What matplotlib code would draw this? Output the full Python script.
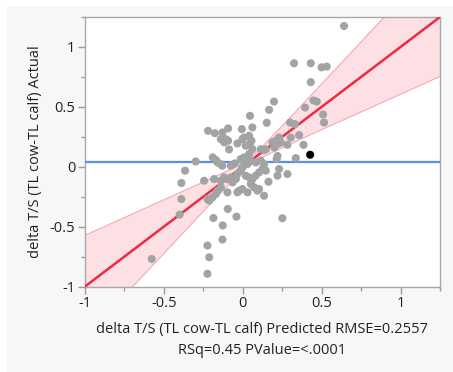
import numpy as np
import matplotlib
matplotlib.use("Agg")
import matplotlib.pyplot as plt
from matplotlib.patches import Rectangle
from matplotlib.ticker import MultipleLocator

plt.rcParams['font.family'] = ['Open Sans', 'DejaVu Sans']

# Gray points (predicted, actual)
pred = [0.642, 0.325, 0.431, 0.499, 0.532, 0.431, 0.198, 0.167, 0.046, 0.395,
        0.448, 0.469, 0.509, 0.515, 0.152, 0.061, 0.300, 0.330, -0.220, -0.177,
        -0.129, -0.093, -0.006, 0.040, -0.139, -0.108, -0.118, -0.093, -0.034, 0.055,
        0.045, 0.019, 0.008, -0.002, 0.304, 0.357, 0.385, 0.230, 0.209, 0.188,
        0.220, 0.241, 0.283, -0.087, 0.114, 0.146, 0.061, 0.135, 0.200, 0.336,
        0.220, 0.215, -0.298, -0.190, -0.170, -0.160, -0.140, -0.130, -0.065, -0.050,
        -0.076, -0.013, 0.008, 0.040, 0.030, 0.019, 0.051, 0.082, 0.114, 0.135,
        0.125, 0.103, 0.082, 0.061, 0.040, 0.019, 0.051, 0.072, 0.103, 0.030,
        0.093, 0.135, 0.163, 0.220, 0.230, 0.283, 0.146, -0.366, -0.389, -0.245,
        -0.182, -0.139, -0.118, -0.097, -0.076, -0.065, -0.044, -0.034, -0.013, -0.002,
        -0.139, -0.160, -0.171, -0.192, -0.224, -0.213, -0.097, -0.034, -0.002, -0.023,
        -0.389, -0.400, -0.095, -0.040, -0.186, 0.251, -0.127, -0.129, -0.224, -0.213,
        -0.224, -0.577]
actual = [1.175, 0.864, 0.864, 0.830, 0.836, 0.706, 0.544, 0.475, 0.425, 0.494,
          0.553, 0.544, 0.436, 0.369, 0.367, 0.328, 0.369, 0.356, 0.300, 0.280,
          0.286, 0.320, 0.314, 0.258, 0.230, 0.230, 0.203, 0.217, 0.194, 0.217,
          0.190, 0.175, 0.244, 0.230, 0.244, 0.264, 0.183, 0.244, 0.217, 0.203,
          0.189, 0.203, 0.183, 0.145, 0.146, 0.146, 0.147, 0.139, 0.160, 0.072,
          0.090, 0.065, 0.044, 0.078, 0.056, 0.036, 0.022, 0.008, 0.017, 0.028,
          0.008, 0.064, 0.078, 0.106, 0.022, 0.036, 0.050, 0.036, 0.050, 0.022,
          -0.019, -0.047, -0.075, -0.103, -0.089, -0.075, -0.144, -0.172, -0.186, -0.214,
          -0.200, -0.242, -0.125, -0.075, -0.019, -0.061, -0.033, -0.033, -0.136, -0.117,
          -0.103, -0.117, -0.089, -0.103, -0.089, -0.131, -0.103, -0.061, -0.033, -0.006,
          -0.172, -0.200, -0.228, -0.256, -0.270, -0.283, -0.214, -0.214, -0.186, -0.200,
          -0.270, -0.400, -0.353, -0.417, -0.428, -0.430, -0.490, -0.608, -0.658, -0.756,
          -0.894, -0.770]

# Highlighted (black) point
sel_pred = [0.427]
sel_actual = [0.100]

# Fit summary
mean_actual = 0.042
fit_slope = 1.0
fit_intercept = 0.0
band_center = 0.04
band_a = 0.03
band_b = 0.41

xlim = (-1.0, 1.25)
ylim = (-1.0, 1.25)

W, H = 453, 372
fig = plt.figure(figsize=(W / 100, H / 100), dpi=100)
fig.patch.set_facecolor('white')
fig.patches.append(Rectangle((7 / W, 0), 1 - 7 / W, 1 - 6 / H, transform=fig.transFigure,
                             facecolor='#f7f7f7', edgecolor='none', zorder=-10))

ax = fig.add_axes([85 / W, 1 - 286.5 / H, (440 - 85) / W, (286.5 - 17) / H])
ax.set_facecolor('white')

xs = np.linspace(xlim[0], xlim[1], 300)
fit = fit_intercept + fit_slope * xs
hw = np.sqrt(band_a ** 2 + band_b ** 2 * (xs - band_center) ** 2)
ax.fill_between(xs, fit - hw, fit + hw, facecolor='#fde0e4', edgecolor='none', zorder=1)
ax.plot(xs, fit - hw, color='#f7a8b2', lw=0.8, zorder=2)
ax.plot(xs, fit + hw, color='#f7a8b2', lw=0.8, zorder=2)
ax.plot(xs, fit, color='#ec2a44', lw=1.8, zorder=3)
ax.axhline(mean_actual, color='#5a8ff0', lw=1.6, zorder=3)

ax.scatter(pred, actual, s=34, color='#a3a3a3', edgecolors='none', zorder=4)
ax.scatter(sel_pred, sel_actual, s=34, color='black', edgecolors='none', zorder=5)

ax.set_xlim(*xlim)
ax.set_ylim(*ylim)
ax.xaxis.set_minor_locator(MultipleLocator(0.25))
ax.yaxis.set_minor_locator(MultipleLocator(0.25))
ax.set_xticks([-1, -0.5, 0, 0.5, 1])
ax.set_xticklabels(['-1', '-0.5', '0', '0.5', '1'])
ax.set_yticks([-1, -0.5, 0, 0.5, 1])
ax.set_yticklabels(['-1', '-0.5', '0', '0.5', '1'])
ax.tick_params(which='major', direction='out', length=5, width=1, color='#9a9a9a',
               labelsize=10.5, labelcolor='#222222', pad=2)
ax.tick_params(which='minor', direction='out', length=3, width=1, color='#9a9a9a')
ax.tick_params(top=False, right=False)
for s in ax.spines.values():
    s.set_color('#a8a8a8')
    s.set_linewidth(1)

ax.set_ylabel('delta T/S (TL cow-TL calf) Actual', fontsize=10.5, color='#222222', labelpad=5)
fig.text((85 + 440) / 2 / W, 1 - 330 / H, 'delta T/S (TL cow-TL calf) Predicted RMSE=0.2557',
         ha='center', va='center', fontsize=10.5, color='#222222')
fig.text((85 + 440) / 2 / W, 1 - 351 / H, 'RSq=0.45 PValue=<.0001',
         ha='center', va='center', fontsize=10.5, color='#222222')

fig.savefig('out.png', dpi=100, facecolor=fig.get_facecolor())
